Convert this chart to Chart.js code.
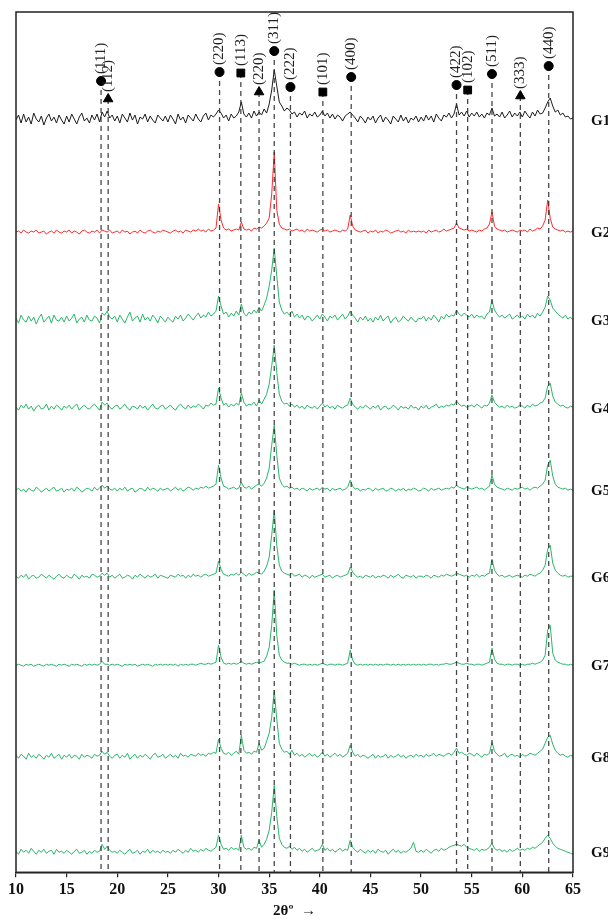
<!DOCTYPE html>
<html lang="en">
<head>
  <meta charset="UTF-8" />
  <title>XRD patterns G1-G9</title>
  <style>
    html, body { margin: 0; padding: 0; background: #fff; }
    canvas { display: block; }
  </style>
</head>
<body>
  <canvas id="xrd" width="608" height="919"></canvas>
  <script src="https://cdn.jsdelivr.net/npm/chart.js"></script>
  <script>
    // 2theta sampling, 10..65 deg every 0.25 deg
    const twoTheta = [];
    for (let i = 0; i <= 220; i++) twoTheta.push(10 + i * 0.25);

    const sampleNames = ['G1', 'G2', 'G3', 'G4', 'G5', 'G6', 'G7', 'G8', 'G9'];
    // vertical shift of each pattern (stacked plot)
    const offsets = [752, 640, 552, 464, 382, 295, 207, 115, 20];

    // intensities (arb. units), 20 values per 5 deg
    const g1 = [
      0,5,-3,6,-2,3,-4,7,1,-2,4,-5,2,6,-1,3,-3,5,0,-4,
      4,-2,6,1,-4,3,7,-1,2,-3,5,0,6,-2,8,3,9,2,5,-1,
      4,-3,6,2,-2,7,0,5,-4,3,1,6,-2,4,0,-3,5,2,-1,4,
      -2,5,1,-4,6,0,3,-3,5,2,-1,6,1,-2,4,7,0,5,3,6,
      10,7,2,5,-1,6,2,4,8,18,6,3,7,2,9,4,8,5,11,7,
      16,30,50,34,18,14,9,12,10,6,8,3,7,5,9,2,6,4,8,3,
      5,9,4,7,2,6,1,5,3,-1,4,6,8,5,2,-2,4,1,-3,3,
      0,4,-3,2,5,-2,3,0,-4,4,1,-2,5,-1,3,-3,2,0,4,-2,
      3,-1,5,0,4,-2,6,2,-1,5,3,7,2,6,16,5,8,4,9,3,
      7,4,8,3,6,2,7,5,12,4,6,3,8,2,5,9,3,7,4,8,
      3,9,5,2,8,4,10,6,7,12,18,22,14,8,10,5,7,3,4,1,
      2
    ];
    const g2 = [
      0,1,-1,2,0,-1,1,0,2,-1,0,1,-2,0,1,-1,2,0,-1,1,
      0,2,-1,1,0,-2,1,2,0,-1,1,0,2,-1,2,1,0,2,-1,0,
      1,-1,2,0,1,-2,0,1,-1,2,0,-1,1,2,0,-1,1,0,2,1,
      0,-1,1,2,0,1,-1,2,1,0,2,1,3,1,2,0,3,1,2,4,
      28,12,4,2,3,1,2,3,2,10,3,2,3,1,4,3,5,4,6,9,
      14,38,80,22,8,4,3,2,3,1,2,3,1,2,0,3,1,2,1,0,
      2,3,1,2,0,1,2,1,0,2,1,3,17,6,2,1,0,1,2,-1,
      1,0,2,-1,1,0,2,1,-1,0,1,2,0,1,-1,2,0,1,0,1,
      0,1,-1,2,0,1,2,0,1,3,1,2,3,4,9,4,3,2,3,1,
      2,1,0,2,1,3,4,8,20,6,3,2,1,2,0,1,2,1,0,2,
      1,2,0,3,1,2,4,3,6,12,32,14,5,3,2,1,2,0,1,0,
      1
    ];
    const g3 = [
      2,-3,5,0,-2,4,-1,3,-4,2,6,-2,1,4,-3,5,0,-1,3,-2,
      4,-1,2,6,-3,1,3,-2,5,0,-1,4,2,-3,7,5,9,3,1,4,
      -2,5,1,-3,3,8,-1,2,4,-2,6,0,3,-1,5,2,-3,4,1,-2,
      3,0,-2,4,1,5,-1,2,6,3,0,4,7,2,5,3,8,4,6,9,
      24,14,6,8,3,7,4,9,5,16,7,4,8,6,10,7,13,9,15,22,
      34,50,72,44,18,10,6,8,5,9,3,6,2,5,0,4,3,-1,2,5,
      1,6,3,-1,4,2,5,0,3,6,1,4,9,5,2,-2,3,0,4,-1,
      2,-2,3,0,5,-1,2,4,-3,1,3,-2,0,4,1,-1,3,0,-2,2,
      1,4,-1,3,0,5,2,-2,4,1,6,3,5,4,10,6,4,7,5,3,
      6,2,5,3,4,1,6,8,20,10,6,3,5,2,4,6,1,3,5,2,
      4,1,6,3,5,2,7,4,8,13,24,20,12,9,6,4,2,5,1,3,
      0
    ];
    const g4 = [
      1,-2,3,0,4,-1,2,-3,1,3,-1,0,4,-2,2,-1,3,1,-2,2,
      0,3,-1,2,4,-2,1,3,0,-1,2,4,1,-2,6,3,5,1,-1,2,
      3,-1,1,4,0,-2,2,1,-1,3,0,2,-2,1,4,0,-1,2,3,-1,
      1,3,0,-2,2,4,1,-1,3,0,2,1,4,2,-1,3,2,5,3,4,
      20,10,3,5,1,4,2,5,3,15,6,2,4,3,6,2,8,4,9,14,
      24,42,63,36,14,7,4,5,2,4,1,3,0,2,-1,3,1,0,2,-1,
      2,5,1,3,0,2,-1,3,1,0,2,3,10,4,1,-1,2,0,3,1,
      -1,2,0,3,-2,1,2,-1,0,3,1,-2,2,0,1,-1,3,0,1,-2,
      2,0,3,-1,1,2,4,0,2,1,3,2,4,3,7,4,2,3,1,2,
      3,1,4,2,0,3,2,5,13,6,3,1,2,0,3,1,2,0,1,3,
      2,0,3,1,4,2,3,5,6,10,22,25,12,6,4,2,3,1,0,2,
      1
    ];
    const g5 = [
      0,2,-1,1,-2,2,0,-1,3,1,-2,0,2,-1,1,3,-1,0,2,-2,
      1,0,2,-1,3,1,-2,0,2,1,-1,3,0,2,5,2,4,1,0,2,
      -1,2,0,3,-1,1,2,-2,0,2,1,-1,3,0,2,1,-1,2,0,1,
      2,-1,1,3,0,2,-1,1,3,2,0,2,1,3,2,4,2,3,4,6,
      25,12,4,3,1,2,3,1,2,8,3,2,4,1,3,5,6,4,7,12,
      22,45,65,35,12,6,3,4,2,3,1,2,0,2,1,-1,2,0,1,2,
      0,3,1,2,-1,2,0,1,2,0,1,3,10,4,1,2,-1,1,0,2,
      1,-1,2,0,1,2,-1,0,2,1,-1,1,0,2,-1,1,0,2,1,-1,
      0,2,1,-1,2,0,1,2,0,1,2,1,3,2,5,3,2,1,3,2,
      1,2,3,1,2,0,2,4,15,6,3,2,1,0,2,1,0,2,1,2,
      3,1,2,0,2,3,2,4,6,10,25,30,14,6,3,2,1,2,0,1,
      0
    ];
    const g6 = [
      1,-1,2,0,3,-2,1,2,-1,0,3,1,-1,2,0,-2,1,3,0,-1,
      2,0,-1,3,1,-2,2,0,1,-1,3,2,0,1,4,2,4,0,2,-1,
      1,3,-1,0,2,1,-2,2,0,3,1,-1,2,0,1,3,-1,2,1,0,
      -1,2,1,0,3,1,2,-1,2,0,3,1,2,0,2,3,1,2,3,4,
      16,8,3,2,1,3,2,4,2,5,3,1,4,2,3,5,4,3,6,11,
      20,42,67,32,12,6,4,3,2,4,1,2,3,0,2,1,-1,2,0,1,
      2,3,0,1,2,-1,1,2,0,1,2,3,10,5,2,0,1,-1,2,1,
      0,2,-1,1,0,2,1,-1,2,0,1,3,0,-1,2,1,0,2,-1,1,
      1,0,2,1,-1,2,1,0,2,1,3,2,1,2,4,3,2,1,2,0,
      2,1,3,0,2,1,3,4,18,7,3,1,2,0,1,2,0,1,2,1,
      0,2,1,3,2,1,3,4,7,12,28,32,14,7,4,2,1,2,0,1,
      1
    ];
    const g7 = [
      0,1,0,-1,1,0,1,-1,0,1,0,-1,1,0,1,0,-1,1,0,1,
      0,-1,1,0,1,0,-1,1,0,1,0,1,0,1,4,1,1,0,1,0,
      1,0,-1,1,0,1,0,1,-1,0,1,0,1,0,-1,1,0,1,0,1,
      0,1,0,1,-1,1,0,1,0,1,1,0,1,2,1,1,2,1,2,3,
      20,8,2,1,2,1,2,1,2,4,2,1,2,1,2,3,2,3,4,9,
      18,40,75,30,10,5,3,2,2,1,2,1,0,1,1,0,1,0,1,0,
      1,2,1,0,1,1,0,1,1,0,1,2,15,5,1,0,1,0,1,0,
      1,0,1,0,1,0,1,1,0,1,0,1,0,1,0,1,0,1,0,1,
      0,1,0,1,1,0,1,0,1,1,2,1,1,2,3,2,1,1,2,1,
      1,0,1,1,0,1,2,3,17,6,2,1,1,0,1,1,0,1,1,0,
      1,0,1,1,2,1,2,3,5,10,35,40,12,5,3,2,1,1,0,1,
      0
    ];
    const g8 = [
      2,-1,3,1,-2,4,0,2,-1,3,1,-2,2,0,4,-1,1,3,-2,2,
      0,3,-1,2,1,-2,3,0,2,1,-1,3,1,2,6,3,5,1,-1,2,
      3,-1,2,0,4,-2,1,3,-1,2,0,3,1,-2,2,4,0,1,3,-1,
      1,3,0,2,-1,4,1,2,0,3,2,1,4,2,3,1,4,3,5,4,
      18,9,4,3,5,2,4,6,3,22,7,4,5,3,6,5,14,7,9,16,
      24,40,67,38,14,8,5,6,3,7,2,4,1,3,0,2,4,1,3,0,
      2,5,1,3,0,2,4,1,3,0,2,4,12,5,1,3,0,2,1,-1,
      1,3,-1,2,0,1,3,-1,2,0,1,3,0,2,-1,1,2,0,3,1,
      2,0,3,1,2,4,1,3,2,1,3,4,2,5,9,4,5,3,2,4,
      3,1,4,2,0,3,2,4,15,6,3,1,2,4,0,2,3,1,2,0,
      3,1,2,4,3,2,4,6,8,14,20,22,13,7,4,2,3,1,0,2,
      1
    ];
    const g9 = [
      1,-2,3,0,2,-1,4,1,-2,2,0,3,-1,1,2,-2,3,0,1,-1,
      2,0,-2,1,3,-1,0,2,-2,1,-1,2,0,1,8,3,6,2,0,1,
      -1,2,0,-2,1,3,-1,0,2,-2,1,0,3,-1,2,0,1,-1,2,0,
      1,-1,2,0,3,1,-1,2,0,4,1,2,0,3,1,4,2,1,3,5,
      17,8,3,4,2,5,3,4,2,17,5,3,4,2,5,4,12,5,8,13,
      22,40,67,36,14,8,5,4,6,3,5,2,4,1,3,0,2,4,1,2,
      3,8,2,4,1,3,0,2,4,1,3,2,12,5,2,0,3,1,-1,2,
      0,2,-1,3,1,0,2,-2,1,3,0,2,-1,1,0,2,4,10,1,0,
      2,0,3,1,-1,2,3,1,4,2,3,5,6,7,8,7,6,8,5,4,
      3,2,4,1,3,2,3,5,9,4,2,3,1,2,0,3,1,2,4,2,
      3,2,4,3,5,4,6,8,10,14,17,14,9,6,4,3,2,1,0,-1,
      -2
    ];
    const patterns = [g1, g2, g3, g4, g5, g6, g7, g8, g9];
    const lineColors = ['#1c1c1c', '#ff2b2b', '#2bb56a', '#2bb56a', '#2bb56a', '#2bb56a', '#2bb56a', '#2bb56a', '#2bb56a'];

    // reflections marked at the top
    const peakLabels = ['(111)', '(112)', '(220)', '(113)', '(220)', '(311)', '(222)', '(101)', '(400)', '(422)', '(102)', '(511)', '(333)', '(440)'];
    const peakPos = [18.4, 19.1, 30.1, 32.2, 34.0, 35.5, 37.1, 40.3, 43.1, 53.5, 54.6, 57.0, 59.8, 62.6];
    const peakPhase = [0, 2, 0, 1, 2, 0, 0, 1, 0, 0, 1, 0, 2, 0];
    const peakMarkLevel = [791, 773, 800, 799, 780, 821, 785, 780, 795, 787, 782, 798, 776, 806];
    const phaseSymbol = ['circle', 'rect', 'triangle'];
    const phaseRadius = [4.5, 5.5, 5.5];

    patterns.forEach((p, k) => {
      if (p.length !== twoTheta.length) console.error(sampleNames[k] + ' has ' + p.length + ' points');
    });

    const datasets = [];
    patterns.forEach((p, k) => {
      datasets.push({
        label: sampleNames[k],
        data: twoTheta.map((x, i) => ({ x: x, y: offsets[k] + p[i] })),
        borderColor: lineColors[k],
        borderWidth: 1,
        pointRadius: 0,
        tension: 0,
        order: 3
      });
    });

    // dashed guide lines from each marker down to the axis
    const guide = [];
    peakPos.forEach((x, j) => {
      guide.push({ x: x, y: peakMarkLevel[j] }, { x: x, y: 0 }, { x: x, y: null });
    });
    datasets.push({
      label: 'guides',
      data: guide,
      borderColor: 'rgba(40,40,40,0.85)',
      borderWidth: 1.3,
      borderDash: [5, 4],
      pointRadius: 0,
      spanGaps: false,
      order: 2
    });

    datasets.push({
      label: 'markers',
      type: 'scatter',
      data: peakPos.map((x, j) => ({ x: x, y: peakMarkLevel[j] })),
      pointStyle: peakPhase.map(ph => phaseSymbol[ph]),
      pointRadius: peakPhase.map(ph => phaseRadius[ph]),
      backgroundColor: '#000',
      borderColor: '#000',
      borderWidth: 1,
      clip: false,
      order: 1
    });

    const serif = '"Liberation Serif", "Times New Roman", serif';

    const annotate = {
      id: 'annotate',
      afterDatasetsDraw(chart) {
        const c = chart.ctx;
        const xs = chart.scales.x, ys = chart.scales.y;
        const area = chart.chartArea;
        c.save();
        // frame
        c.strokeStyle = '#222';
        c.lineWidth = 1.5;
        c.strokeRect(area.left, area.top, area.right - area.left, area.bottom - area.top);
        // hkl labels, rotated
        c.fillStyle = '#222';
        c.font = '15px ' + serif;
        c.textAlign = 'left';
        c.textBaseline = 'middle';
        peakLabels.forEach((t, j) => {
          c.save();
          c.translate(xs.getPixelForValue(peakPos[j]), ys.getPixelForValue(peakMarkLevel[j]) - 7);
          c.rotate(-Math.PI / 2);
          c.fillText(t, 0, 0);
          c.restore();
        });
        // sample names on the right
        c.font = 'bold 15px ' + serif;
        c.fillStyle = '#111';
        sampleNames.forEach((n, k) => {
          c.fillText(n, area.right + 18, ys.getPixelForValue(offsets[k]) + 1);
        });
        c.restore();
      }
    };

    new Chart(document.getElementById('xrd'), {
      type: 'line',
      data: { datasets: datasets },
      options: {
        responsive: false,
        animation: false,
        events: [],
        layout: { padding: { left: 16, right: 35, top: 12, bottom: 0 } },
        plugins: { legend: { display: false }, tooltip: { enabled: false } },
        scales: {
          x: {
            type: 'linear',
            min: 10,
            max: 65,
            ticks: {
              stepSize: 5,
              color: '#111',
              padding: 3,
              font: { family: serif, size: 16, weight: 'bold' }
            },
            grid: { drawOnChartArea: false, tickLength: 5, color: '#222', lineWidth: 1.2 },
            border: { color: '#222', width: 1.5 },
            title: {
              display: true,
              text: '2θº  →',
              color: '#111',
              padding: { top: 0, bottom: 0 },
              font: { family: serif, size: 15, weight: 'bold', lineHeight: 1.1 }
            }
          },
          y: { display: false, min: 0, max: 860 }
        }
      },
      plugins: [annotate]
    });
  </script>
</body>
</html>
